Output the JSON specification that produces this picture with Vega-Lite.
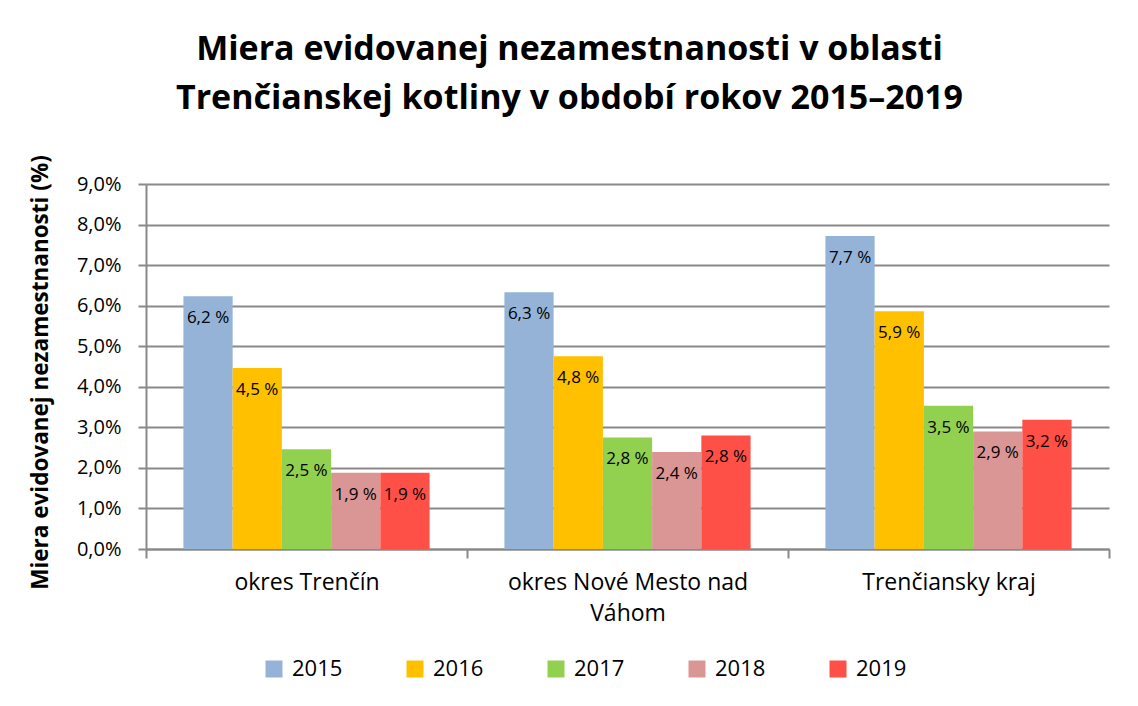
{
  "$schema": "https://vega.github.io/schema/vega-lite/v6.json",
  "width": 963,
  "height": 365,
  "autosize": {"type": "none"},
  "padding": {"left": 146, "top": 184, "right": 29, "bottom": 157},
  "background": "white",
  "title": {
    "text": ["Miera evidovanej nezamestnanosti v oblasti", "Trenčianskej kotliny v období rokov 2015–2019"],
    "font": "Open Sans",
    "fontSize": 34,
    "fontWeight": "bold",
    "color": "black",
    "lineHeight": 49,
    "anchor": "middle",
    "dx": -58,
    "offset": 12,
    "baseline": "alphabetic"
  },
  "data": {
    "values": [
      {"region": "okres Trenčín", "year": "2015", "value": 6.23},
      {"region": "okres Trenčín", "year": "2016", "value": 4.46},
      {"region": "okres Trenčín", "year": "2017", "value": 2.46},
      {"region": "okres Trenčín", "year": "2018", "value": 1.88},
      {"region": "okres Trenčín", "year": "2019", "value": 1.88},
      {"region": "okres Nové Mesto nad Váhom", "year": "2015", "value": 6.33},
      {"region": "okres Nové Mesto nad Váhom", "year": "2016", "value": 4.75},
      {"region": "okres Nové Mesto nad Váhom", "year": "2017", "value": 2.75},
      {"region": "okres Nové Mesto nad Váhom", "year": "2018", "value": 2.39},
      {"region": "okres Nové Mesto nad Váhom", "year": "2019", "value": 2.8},
      {"region": "Trenčiansky kraj", "year": "2015", "value": 7.72},
      {"region": "Trenčiansky kraj", "year": "2016", "value": 5.86},
      {"region": "Trenčiansky kraj", "year": "2017", "value": 3.53},
      {"region": "Trenčiansky kraj", "year": "2018", "value": 2.9},
      {"region": "Trenčiansky kraj", "year": "2019", "value": 3.19}
    ]
  },
  "transform": [
    {"calculate": "replace(format(datum.value, '.1f'), '.', ',') + ' %'", "as": "label"}
  ],
  "encoding": {
    "x": {
      "field": "region",
      "type": "nominal",
      "sort": ["okres Trenčín", "okres Nové Mesto nad Váhom", "Trenčiansky kraj"],
      "scale": {"paddingInner": 0, "paddingOuter": 0},
      "axis": {
        "title": null,
        "labelAngle": 0,
        "labelFont": "Open Sans",
        "labelFontSize": 23,
        "labelColor": "black",
        "labelPadding": 13,
        "labelLineHeight": 31,
        "labelLimit": 0,
        "labelExpr": "datum.value == 'okres Nové Mesto nad Váhom' ? ['okres Nové Mesto nad', 'Váhom'] : datum.value",
        "domainColor": "#898989",
        "domainWidth": 2,
        "ticks": true,
        "tickBand": "extent",
        "tickSize": 9,
        "tickColor": "#898989",
        "tickWidth": 2
      }
    },
    "xOffset": {
      "field": "year",
      "type": "nominal",
      "scale": {"paddingInner": 0, "paddingOuter": 0.76}
    },
    "y": {
      "field": "value",
      "type": "quantitative",
      "scale": {"domain": [0, 9]},
      "axis": {
        "title": "Miera evidovanej nezamestnanosti (%)",
        "titleFont": "Open Sans",
        "titleFontSize": 22.5,
        "titleFontWeight": "bold",
        "titleColor": "black",
        "titleAngle": -90,
        "titleX": -106,
        "titleY": 188,
        "titleAlign": "center",
        "titleBaseline": "middle",
        "values": [0, 1, 2, 3, 4, 5, 6, 7, 8, 9],
        "labelExpr": "replace(format(datum.value, '.1f'), '.', ',') + '%'",
        "labelFont": "Open Sans",
        "labelFontSize": 20,
        "labelColor": "black",
        "labelPadding": 17,
        "tickSize": 8,
        "tickColor": "#898989",
        "tickWidth": 2,
        "domainColor": "#898989",
        "domainWidth": 2,
        "grid": true,
        "gridColor": "#898989",
        "gridWidth": 2
      }
    }
  },
  "layer": [
    {
      "mark": {"type": "bar"},
      "encoding": {
        "color": {
          "field": "year",
          "type": "nominal",
          "scale": {
            "domain": ["2015", "2016", "2017", "2018", "2019"],
            "range": ["#95B3D7", "#FFC000", "#92D050", "#D99694", "#FF5047"]
          },
          "legend": {
            "title": null,
            "orient": "none",
            "legendX": 117,
            "legendY": 474,
            "direction": "horizontal",
            "symbolType": "square",
            "symbolSize": 289,
            "symbolStrokeWidth": 0,
            "symbolOpacity": 1,
            "labelFont": "Open Sans",
            "labelFontSize": 22,
            "labelColor": "black",
            "labelOffset": 7,
            "columnPadding": 61,
            "padding": 0
          }
        }
      }
    },
    {
      "mark": {"type": "text", "dy": 22, "baseline": "middle", "align": "center", "font": "Open Sans", "fontSize": 17, "color": "black"},
      "encoding": {
        "text": {"field": "label"}
      }
    }
  ],
  "config": {"view": {"stroke": null}}
}
